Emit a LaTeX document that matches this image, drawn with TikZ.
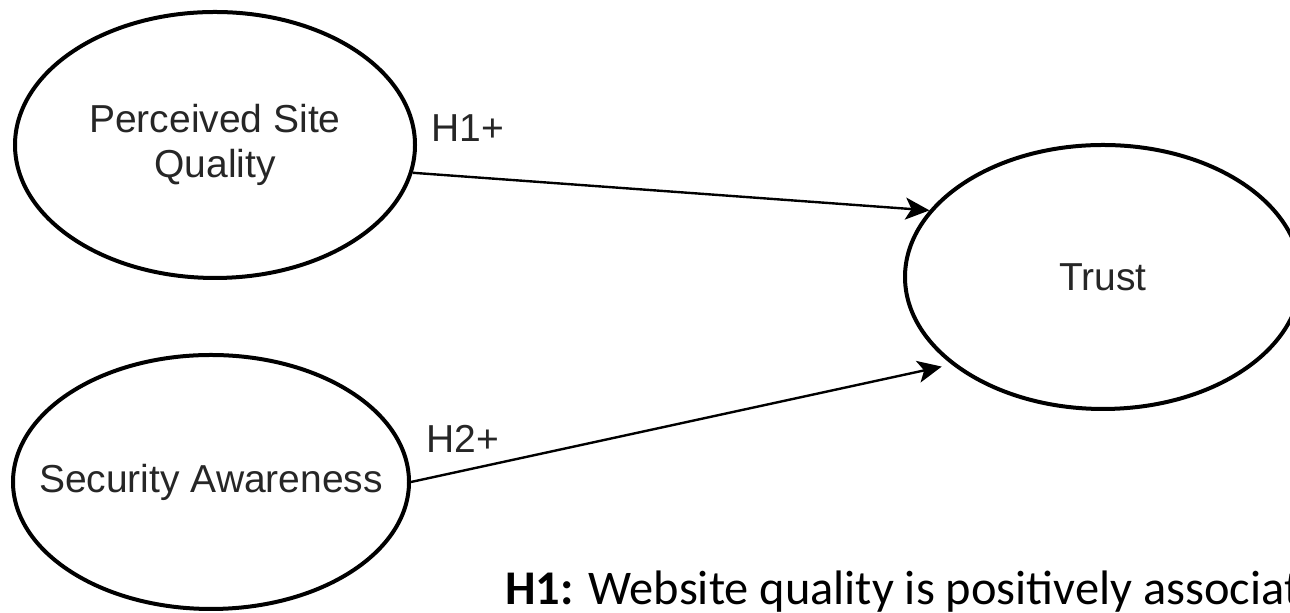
\documentclass[tikz,border=0pt]{standalone}
\usepackage{fontspec}
\setmainfont{Liberation Sans}
\newfontfamily\notefont{Carlito}
\usetikzlibrary{arrows.meta,shapes.geometric}
\tikzset{
    construct/.style = {draw=black, ellipse, line width=2pt, inner sep=0pt, align=center, text=black!85, font=\fontsize{19.5}{22.5}\selectfont},
    path-label/.style = {inner sep=0pt, text=black!85, font=\fontsize{19.5}{22.5}\selectfont},
    hypothesis/.style = {-{Stealth[length=12pt, width=11pt, inset=3pt]}, line width=1.2pt},
}

\begin{document}
\begin{tikzpicture}[x=0.5pt, y=0.5pt]
\useasboundingbox (0,0) rectangle (1290,613);
\clip (0,0) rectangle (1290,613);

% the three constructs
\node [construct, minimum width=200pt, minimum height=133pt] (quality) at (215,468) {Perceived Site\\Quality};
\node [construct, minimum width=198pt, minimum height=127pt] (awareness) at (211,131) {\makebox[0pt]{Security Awareness}};
\node [construct, minimum width=198pt, minimum height=132pt] (trust) at (1103,336) {Trust};

% hypothesised paths
\draw [hypothesis] (quality.-8) -- (trust.159);
\draw [hypothesis, shorten >=5pt] (awareness.east) -- (trust.210);
\node [path-label] (h1) at (468,485) {H1+};
\node [path-label] (h2) at (463,174) {H2+};

\node [anchor=base west, inner sep=0pt, font=\notefont\fontsize{24.2}{28}\selectfont] (note) at (505,8) {\textbf{H1:} Website quality is positively associat};
\end{tikzpicture}
\end{document}
